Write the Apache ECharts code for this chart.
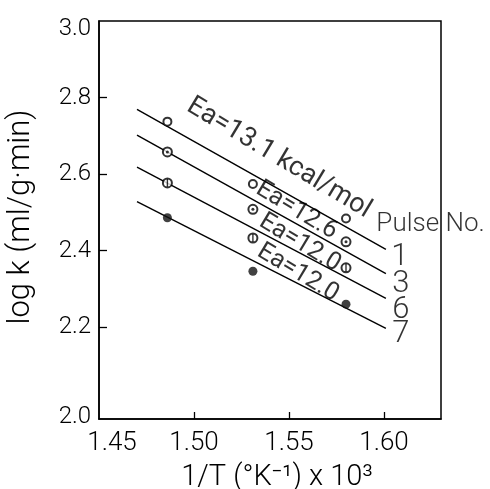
<!DOCTYPE html>
<html>
<head>
<meta charset="utf-8">
<script src="https://cdn.jsdelivr.net/npm/echarts@6/dist/echarts.min.js"></script>
<style>
html,body{margin:0;padding:0;background:#fff;}
#c{width:490px;height:489px;}
</style>
</head>
<body>
<div id="c"></div>
<script>
// ---- data ----
const xPoints = [1.486, 1.531, 1.580];
const pulse1 = [2.737, 2.574, 2.484];
const pulse3 = [2.658, 2.508, 2.423];
const pulse6 = [2.577, 2.433, 2.355];
const pulse7 = [2.486, 2.346, 2.260];
const fitX = [1.470, 1.601];
const fit1 = [2.769, 2.403];
const fit3 = [2.702, 2.340];
const fit6 = [2.618, 2.275];
const fit7 = [2.528, 2.197];
const xTickVals = [1.45, 1.50, 1.55, 1.60];
const yTickVals = [2.2, 2.4, 2.6, 2.8];
const yLabelVals = [1.965, 2.2, 2.4, 2.6, 2.8, 2.98];
const eaTexts = ['Ea=13.1 kcal/mol', 'Ea=12.6', 'Ea=12.0', 'Ea=12.0'];
const eaX = [1.5447, 1.554, 1.5557, 1.5547];
const eaY = [2.642, 2.505, 2.420, 2.342];
const pulseNames = ['1', '3', '6', '7'];
const pulseNameX = [1.6084, 1.6089, 1.6089, 1.6089];
const pulseNameY = [2.383, 2.3125, 2.2445, 2.1805];
const pulseTitle = 'Pulse No.';
const pulseTitleXY = [1.6245, 2.467];

const FONT = 'Roboto';
const pair = (xs, ys) => xs.map((x, i) => [x, ys[i]]);

const lineSeries = [fit1, fit3, fit6, fit7].map(f => ({
  type: 'line', data: pair(fitX, f), symbol: 'none', z: 2,
  lineStyle: { color: '#000', width: 1.4 }, animation: false
}));

const ring = (ys, size) => ({
  type: 'scatter', data: pair(xPoints, ys), symbol: 'emptyCircle', symbolSize: size, z: 5,
  itemStyle: { color: '#000', borderColor: '#000', borderWidth: 1.3 }, animation: false
});

const series = [
  ...lineSeries,
  ring(pulse1, 8),
  ring(pulse3, 9),
  { type: 'scatter', data: pair(xPoints, pulse3), symbol: 'circle', symbolSize: 3, z: 6,
    itemStyle: { color: '#000' }, animation: false },
  ring(pulse6, 9),
  { type: 'scatter', data: pair(xPoints, pulse6), symbol: 'rect', symbolSize: [1.4, 8], z: 6,
    itemStyle: { color: '#000' }, animation: false },
  { type: 'scatter', data: pair(xPoints, pulse7), symbol: 'circle', symbolSize: 9, z: 5,
    itemStyle: { color: '#111' }, animation: false },
  // annotations
  { type: 'scatter', symbolSize: 0, z: 7, animation: false, silent: true,
    data: eaTexts.map((t, i) => ({
      value: [eaX[i], eaY[i]],
      label: { show: true, position: 'inside', formatter: t, rotate: -31,
        fontSize: i === 0 ? 27 : 25, fontFamily: FONT, fontWeight: 400, color: '#000' }
    })) },
  { type: 'scatter', symbolSize: 0, z: 7, animation: false, silent: true,
    data: pulseNames.map((t, i) => ({
      value: [pulseNameX[i], pulseNameY[i]],
      label: { show: true, position: 'inside', formatter: t,
        fontSize: 31, fontFamily: FONT, fontWeight: 300, color: '#000' }
    })).concat([{
      value: pulseTitleXY,
      label: { show: true, position: 'inside', formatter: pulseTitle,
        fontSize: 26, fontFamily: FONT, fontWeight: 300, color: '#000' }
    }]) }
];

const chart = echarts.init(document.getElementById('c'), null, { renderer: 'canvas' });
chart.setOption({
  backgroundColor: '#fff',
  animation: false,
  grid: { left: 99, right: 49, top: 21, bottom: 70, show: true, borderColor: '#000', borderWidth: 1.5,
    containLabel: false, outerBoundsMode: 'none' },
  xAxis: {
    type: 'value', min: 1.45, max: 1.63,
    name: '1/T (°K⁻¹) x 10³', nameLocation: 'middle', nameGap: 44,
    nameTextStyle: { fontSize: 29, fontFamily: FONT, fontWeight: 300, color: '#000', padding: [0, 0, 0, 14] },
    axisLine: { show: true, lineStyle: { color: '#000', width: 1.5 } },
    axisTick: { show: true, inside: true, length: 7, customValues: [1.50, 1.55, 1.60],
      lineStyle: { color: '#000', width: 1.3 } },
    axisLabel: { customValues: xTickVals, margin: 11, fontSize: 26, fontFamily: FONT, fontWeight: 300, color: '#000',
      formatter: v => Math.abs(v - 1.45) < 1e-6 ? '{a|1.45}' : v.toFixed(2),
      rich: { a: { fontSize: 26, fontFamily: FONT, fontWeight: 300, color: '#000', padding: [0, 0, 0, 26] } } },
    splitLine: { show: false }
  },
  yAxis: {
    type: 'value', min: 1.96, max: 3.0,
    name: 'log k (ml/g·min)', nameLocation: 'middle', nameGap: 62, nameRotate: 90,
    nameTextStyle: { fontSize: 31, fontFamily: FONT, fontWeight: 300, color: '#000', padding: [0, 0, 0, 6] },
    axisLine: { show: true, lineStyle: { color: '#000', width: 1.5 } },
    axisTick: { show: true, inside: true, length: 8, customValues: yTickVals,
      lineStyle: { color: '#000', width: 1.3 } },
    axisLabel: { customValues: yLabelVals, margin: 8, fontSize: 24, fontFamily: FONT, fontWeight: 300, color: '#000',
      verticalAlignMinLabel: 'middle', verticalAlignMaxLabel: 'middle',
      formatter: v => v < 2 ? '2.0' : v.toFixed(1) },
    splitLine: { show: false }
  },
  series: series
});
</script>
</body>
</html>
